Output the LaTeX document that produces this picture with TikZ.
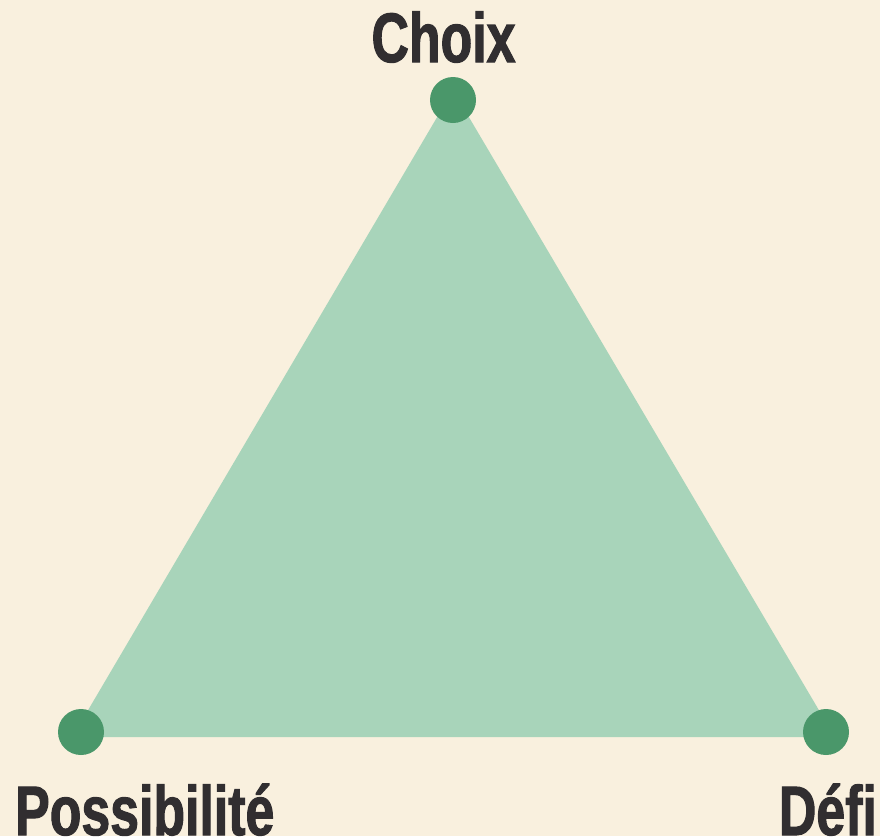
\documentclass[tikz,border=0pt]{standalone}
\usepackage{fontspec}
\newfontfamily\labfont{Liberation Sans}[FakeStretch=0.74,FakeBold=1.5]
\definecolor{bg}{HTML}{F9F0DE}
\definecolor{trifill}{HTML}{A8D4BA}
\definecolor{dotgreen}{HTML}{4A976A}
\definecolor{ink}{HTML}{312E30}
\tikzset{
  dot/.style={circle, fill=dotgreen, draw=none, minimum size=46pt, inner sep=0pt},
  tri/.style={fill=trifill, draw=trifill, line width=10pt, line join=round},
  lab/.style={inner sep=0pt, text=ink, font=\labfont\bfseries\fontsize{70}{70}\selectfont}
}
\begin{document}
\begin{tikzpicture}[x=1pt,y=-1pt]
\fill[bg] (0,0) rectangle (880,836);
\useasboundingbox (0,0) rectangle (880,836);
\coordinate (vc) at (453,100);
\coordinate (vp) at (81,732);
\coordinate (vd) at (826,732);
\filldraw[tri] (vc) -- (vp) -- (vd) -- cycle;
\node[dot] (choixdot) at (vc) {};
\node[dot] (possdot) at (vp) {};
\node[dot] (defidot) at (vd) {};
\node[lab, anchor=base] (choix) at (443.5,62) {Choix};
\node[lab, anchor=base west] (poss) at (15,835) {Possibilité};
\node[lab, anchor=base east] (defi) at (877,835) {Défi};
\end{tikzpicture}
\end{document}
